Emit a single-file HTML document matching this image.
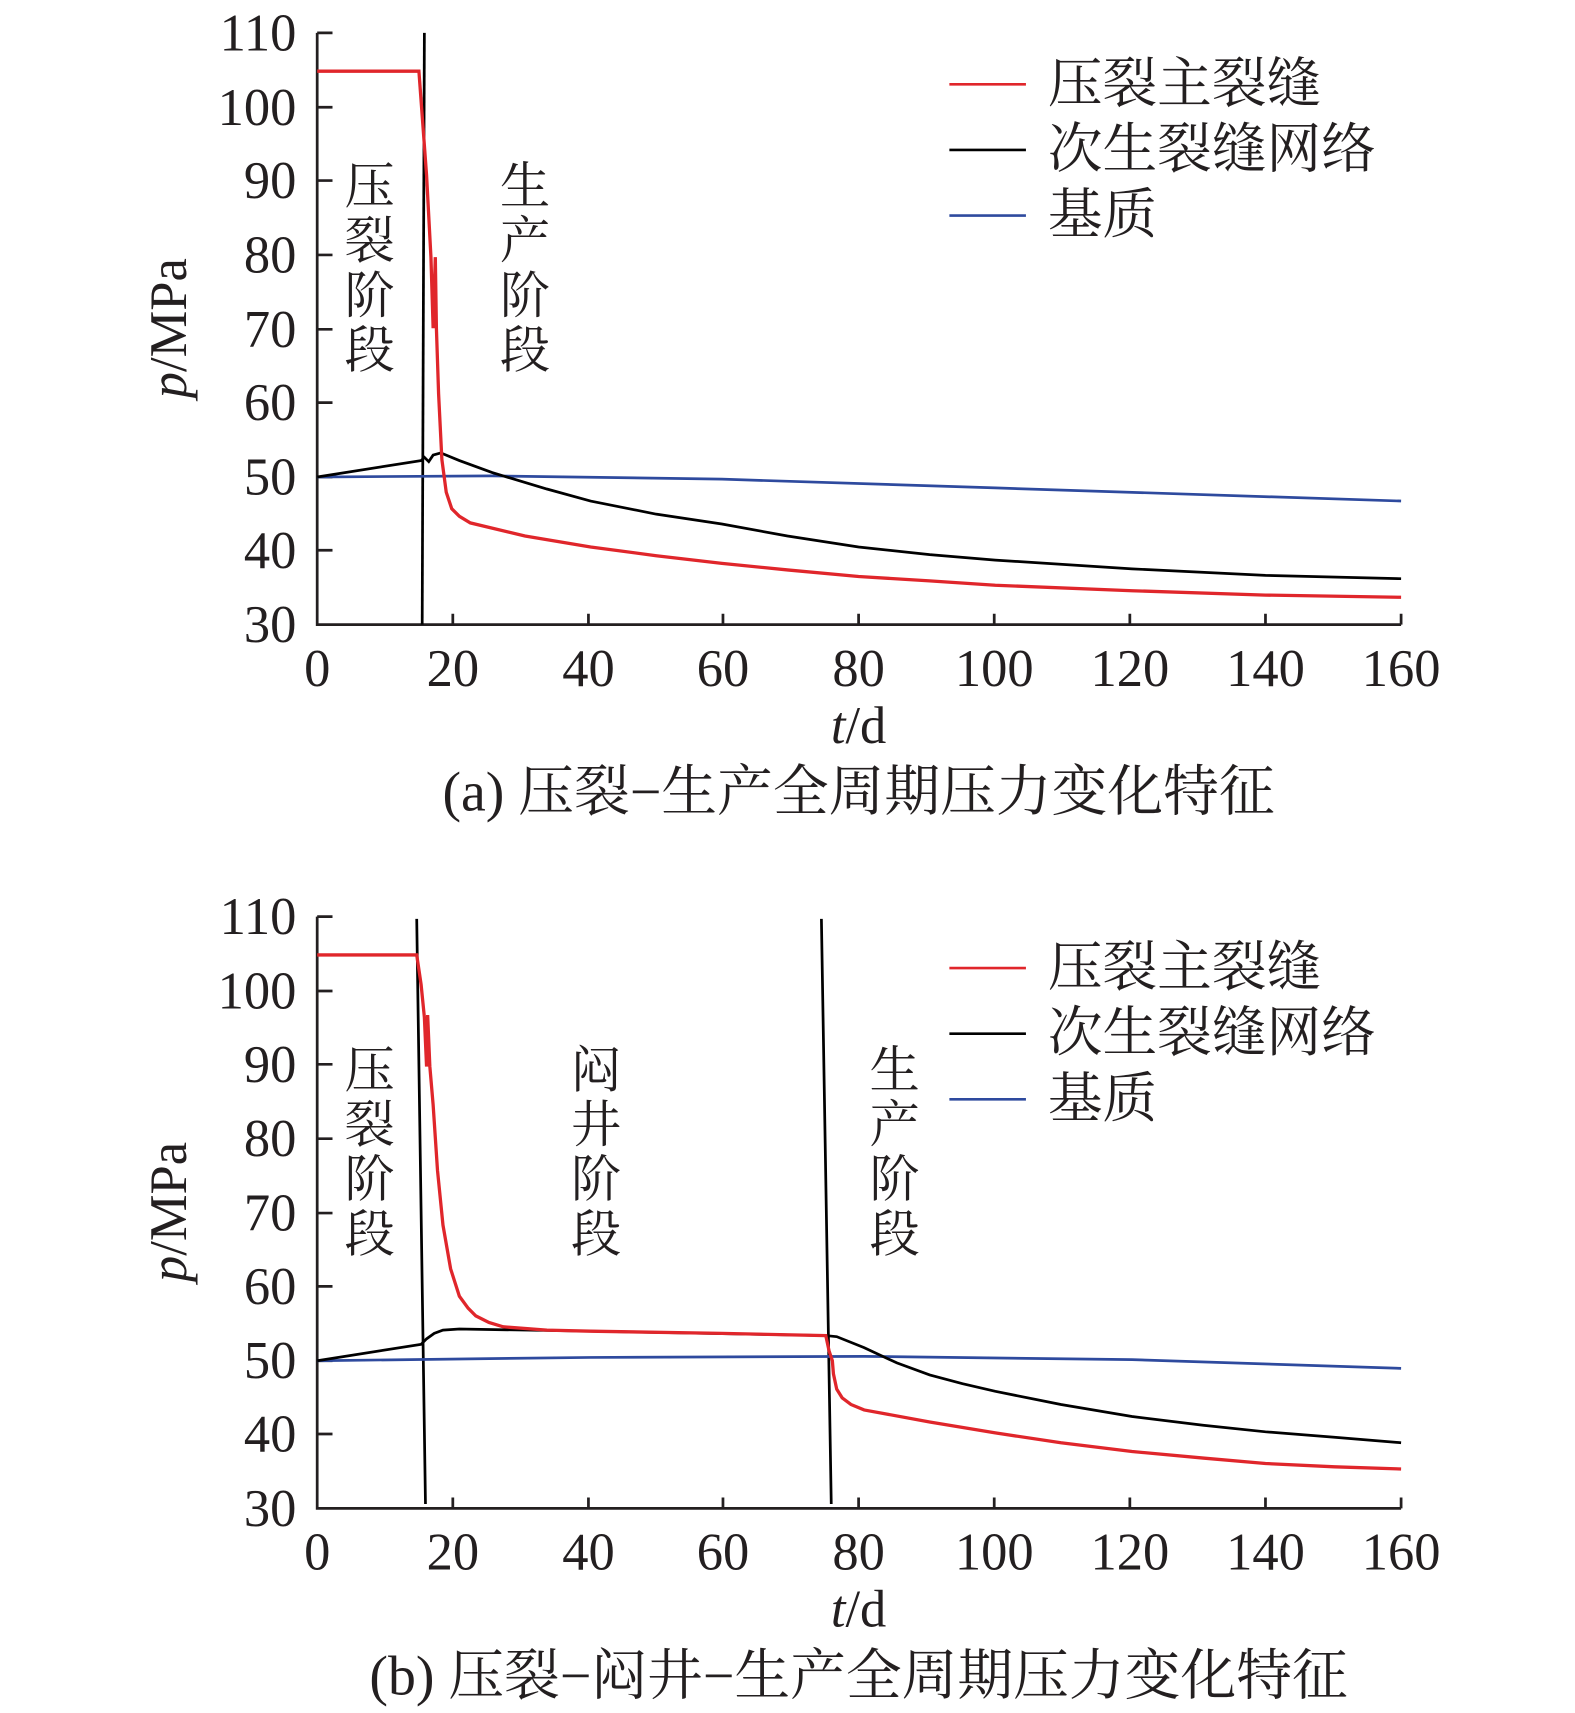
<!DOCTYPE html>
<html><head><meta charset="utf-8"><style>body{margin:0;background:#fff}svg{display:block}</style></head><body>
<svg width="1575" height="1713" viewBox="0 0 1440 1566" xmlns="http://www.w3.org/2000/svg" font-family="Liberation Serif, Noto Serif CJK SC, serif" fill="#231f20">
<g id="a">
<path d="M290,30V571H1281" fill="none" stroke="#231f20" stroke-width="2.5"/>
<g stroke="#231f20" stroke-width="2.5">
<path d="M290,30h14M290,98h14M290,165h14M290,233h14M290,301h14M290,368h14M290,436h14M290,503h14"/>
<path d="M414,571v-10M538,571v-10M661,571v-10M785,571v-10M909,571v-10M1033,571v-10M1157,571v-10M1281,571v-10"/>
</g>
<g font-size="48" text-anchor="end"><text x="271" y="46">110</text><text x="271" y="114">100</text><text x="271" y="181">90</text><text x="271" y="249">80</text><text x="271" y="317">70</text><text x="271" y="384">60</text><text x="271" y="452">50</text><text x="271" y="519">40</text><text x="271" y="587">30</text></g>
<g font-size="48" text-anchor="middle"><text x="290" y="627">0</text><text x="414" y="627">20</text><text x="538" y="627">40</text><text x="661" y="627">60</text><text x="785" y="627">80</text><text x="909" y="627">100</text><text x="1033" y="627">120</text><text x="1157" y="627">140</text><text x="1281" y="627">160</text>
<text x="785" y="679"><tspan font-style="italic">t</tspan>/d</text>
<text x="785" y="741" font-size="51">(a) 压裂−生产全周期压力变化特征</text></g>
<text transform="translate(170,300) rotate(-90)" font-size="48" text-anchor="middle"><tspan font-style="italic">p</tspan>/MPa</text>
<g font-size="46" text-anchor="middle"><text x="338" y="186">压</text><text x="338" y="236">裂</text><text x="338" y="286">阶</text><text x="338" y="336">段</text>
<text x="480" y="186">生</text><text x="480" y="236">产</text><text x="480" y="286">阶</text><text x="480" y="336">段</text></g>
<path d="M388,30L386,571" stroke="#000" stroke-width="2.5"/>
<path d="M290,436L450,435L660,438L910,446L1281,458" fill="none" stroke="#2e4a9e" stroke-width="2.5"/>
<path d="M290,436L385,421L388,418L392,422L396,416L403,414L420,421L450,432L500,447L540,458L600,470L660,479L720,490L785,500L850,507L910,512L1035,520L1157,526L1281,529" fill="none" stroke="#000" stroke-width="2.5"/>
<path d="M290,65L383,65L390,160L394,235L396,300L398,235L399,300L401,360L404,420L408,450L413,465L420,472L430,478L480,490L540,500L600,508L660,515L720,521L785,527L850,531L910,535L1035,540L1157,544L1281,546" fill="none" stroke="#e0262b" stroke-width="3"/>
<g stroke-width="2.5"><path d="M868,77h70" stroke="#e0262b"/><path d="M868,137h70" stroke="#000"/><path d="M868,197h70" stroke="#2e4a9e"/></g>
<g font-size="50"><text x="958" y="93">压裂主裂缝</text><text x="958" y="153">次生裂缝网络</text><text x="958" y="213">基质</text></g>
</g>
<g id="b">
<path d="M290,838V1379H1281" fill="none" stroke="#231f20" stroke-width="2.5"/>
<g stroke="#231f20" stroke-width="2.5">
<path d="M290,838h14M290,906h14M290,973h14M290,1041h14M290,1109h14M290,1176h14M290,1244h14M290,1311h14"/>
<path d="M414,1379v-10M538,1379v-10M661,1379v-10M785,1379v-10M909,1379v-10M1033,1379v-10M1157,1379v-10M1281,1379v-10"/>
</g>
<g font-size="48" text-anchor="end"><text x="271" y="854">110</text><text x="271" y="922">100</text><text x="271" y="989">90</text><text x="271" y="1057">80</text><text x="271" y="1125">70</text><text x="271" y="1192">60</text><text x="271" y="1260">50</text><text x="271" y="1327">40</text><text x="271" y="1395">30</text></g>
<g font-size="48" text-anchor="middle"><text x="290" y="1435">0</text><text x="414" y="1435">20</text><text x="538" y="1435">40</text><text x="661" y="1435">60</text><text x="785" y="1435">80</text><text x="909" y="1435">100</text><text x="1033" y="1435">120</text><text x="1157" y="1435">140</text><text x="1281" y="1435">160</text>
<text x="785" y="1487"><tspan font-style="italic">t</tspan>/d</text>
<text x="785" y="1549" font-size="51">(b) 压裂−闷井−生产全周期压力变化特征</text></g>
<text transform="translate(170,1108) rotate(-90)" font-size="48" text-anchor="middle"><tspan font-style="italic">p</tspan>/MPa</text>
<g font-size="46" text-anchor="middle"><text x="338" y="994">压</text><text x="338" y="1044">裂</text><text x="338" y="1094">阶</text><text x="338" y="1144">段</text>
<text x="545" y="994">闷</text><text x="545" y="1044">井</text><text x="545" y="1094">阶</text><text x="545" y="1144">段</text>
<text x="818" y="994">生</text><text x="818" y="1044">产</text><text x="818" y="1094">阶</text><text x="818" y="1144">段</text></g>
<path d="M381,840L389,1375M751,840L760,1375" stroke="#000" stroke-width="2.5"/>
<path d="M290,1244L540,1241L790,1240L1035,1243L1281,1251" fill="none" stroke="#2e4a9e" stroke-width="2.5"/>
<path d="M290,1244L385,1229L390,1224L397,1219L405,1216L420,1215L540,1217L755,1221L765,1222L790,1232L820,1246L850,1257L880,1265L910,1272L970,1284L1035,1295L1100,1303L1157,1309L1220,1314L1281,1319" fill="none" stroke="#000" stroke-width="2.5"/>
<path d="M290,873L381,873L385,900L388,930L390,975L391,928L393,975L396,1010L400,1070L405,1120L412,1160L420,1185L428,1196L435,1203L447,1209L460,1213L500,1216L540,1217L660,1219L755,1221L758,1235L761,1244L762,1256L765,1270L770,1278L778,1284L790,1289L850,1300L910,1310L970,1319L1035,1327L1100,1333L1157,1338L1220,1341L1281,1343" fill="none" stroke="#e0262b" stroke-width="3"/>
<g stroke-width="2.5"><path d="M868,885h70" stroke="#e0262b"/><path d="M868,945h70" stroke="#000"/><path d="M868,1005h70" stroke="#2e4a9e"/></g>
<g font-size="50"><text x="958" y="901">压裂主裂缝</text><text x="958" y="961">次生裂缝网络</text><text x="958" y="1021">基质</text></g>
</g>
</svg>
</body></html>
